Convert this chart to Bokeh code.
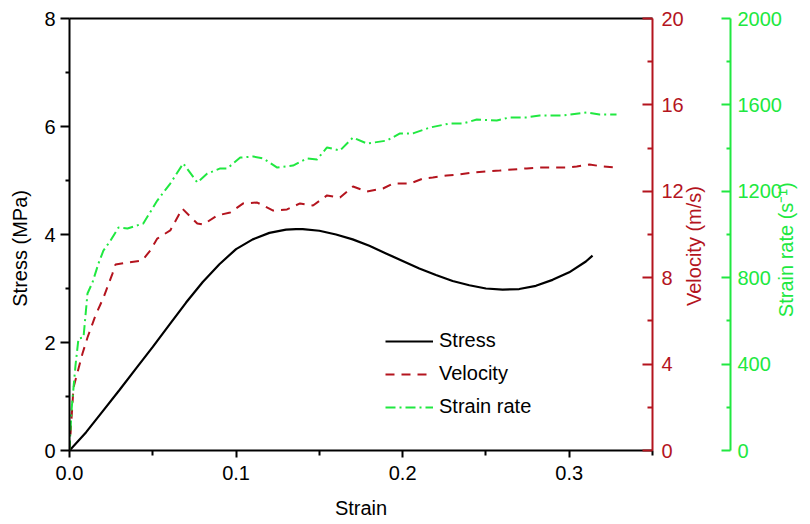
import math
from bokeh.plotting import figure
from bokeh.models import (Range1d, LinearAxis, FixedTicker, NumeralTickFormatter,
                          Legend, LegendItem)
from bokeh.embed import file_html
from bokeh.resources import INLINE

# ---- data ----
strain_s = [0, 0.01, 0.02, 0.03, 0.04, 0.05, 0.06, 0.07, 0.08, 0.09, 0.10, 0.11,
            0.12, 0.13, 0.136, 0.14, 0.15, 0.16, 0.17, 0.18, 0.19, 0.20, 0.21,
            0.22, 0.23, 0.24, 0.25, 0.26, 0.27, 0.28, 0.29, 0.30, 0.31, 0.314]
stress = [0, 0.34, 0.73, 1.12, 1.52, 1.92, 2.33, 2.74, 3.12, 3.45, 3.73, 3.91,
          4.03, 4.09, 4.10, 4.10, 4.07, 4.00, 3.91, 3.79, 3.65, 3.51, 3.37,
          3.25, 3.14, 3.06, 3.00, 2.98, 2.99, 3.05, 3.16, 3.30, 3.50, 3.61]

strain_v = [0, 0.0024, 0.0078, 0.0108, 0.0156, 0.0204, 0.0258, 0.0276, 0.0348,
            0.0437, 0.0485, 0.0527, 0.0605, 0.0677, 0.0767, 0.0803, 0.0887,
            0.0965, 0.1043, 0.1127, 0.1223, 0.1306, 0.1384, 0.1462, 0.1546,
            0.1624, 0.1702, 0.1786, 0.1882, 0.1942, 0.2044, 0.2122, 0.2181,
            0.2265, 0.2343, 0.2421, 0.2505, 0.2583, 0.2661, 0.2745, 0.2823,
            0.2901, 0.2985, 0.3045, 0.3122, 0.3200, 0.3284]
velocity = [0, 2.92, 4.49, 5.23, 6.25, 7.08, 8.19, 8.61, 8.70, 8.80, 9.26, 9.81,
            10.19, 11.20, 10.51, 10.46, 10.88, 11.02, 11.44, 11.48, 11.11, 11.16,
            11.44, 11.34, 11.81, 11.71, 12.22, 11.99, 12.13, 12.36, 12.36, 12.59,
            12.64, 12.73, 12.78, 12.87, 12.92, 12.96, 13.01, 13.06, 13.10, 13.10,
            13.10, 13.15, 13.24, 13.15, 13.10]

strain_r = [0, 0.0012, 0.0036, 0.0054, 0.0084, 0.0108, 0.0138, 0.0174, 0.0204,
            0.0246, 0.0294, 0.0348, 0.0443, 0.0527, 0.0605, 0.0683, 0.0767,
            0.0827, 0.0905, 0.0947, 0.1025, 0.1103, 0.1163, 0.1247, 0.1342,
            0.1426, 0.1486, 0.1546, 0.1624, 0.1702, 0.1786, 0.1906, 0.1984,
            0.2062, 0.2163, 0.2283, 0.2361, 0.2445, 0.2565, 0.2643, 0.2745,
            0.2823, 0.2961, 0.3104, 0.3182, 0.3284]
strain_rate = [0, 185, 394, 519, 523, 727, 778, 866, 926, 972, 1032, 1028, 1051,
               1157, 1236, 1329, 1241, 1282, 1306, 1306, 1356, 1361, 1352, 1310,
               1319, 1352, 1347, 1403, 1389, 1449, 1421, 1435, 1468, 1468, 1495,
               1514, 1514, 1532, 1528, 1542, 1542, 1551, 1551, 1565, 1556, 1556]

x_ticks = [0.0, 0.1, 0.2, 0.3]
x_minor = [0.05, 0.15, 0.25, 0.35]
stress_ticks = [0, 2, 4, 6, 8]
stress_minor = [1, 3, 5, 7]
vel_ticks = [0, 4, 8, 12, 16, 20]
vel_minor = [2, 6, 10, 14, 18]
sr_ticks = [0, 400, 800, 1200, 1600, 2000]
sr_minor = [200, 600, 1000, 1400, 1800]

RED = "#B4141E"
GREEN = "#20E840"
FONT = "Liberation Sans"
FS = "20px"
NB = "\u00a0"

p = figure(width=810, height=524, x_range=Range1d(0, 0.35), y_range=Range1d(0, 8),
           output_backend="svg", toolbar_location=None,
           min_border_left=69, min_border_right=157, min_border_top=18,
           min_border_bottom=74)
p.extra_y_ranges = {"vel": Range1d(0, 20), "sr": Range1d(0, 2000)}
p.xgrid.visible = False
p.ygrid.visible = False
p.outline_line_color = None
p.background_fill_color = "white"
p.border_fill_color = "white"


def style(ax, color, tick_in, tick_out, minor_in, minor_out, standoff):
    ax.axis_line_color = color
    ax.axis_line_width = 2
    ax.major_tick_line_color = color
    ax.major_tick_line_width = 2
    ax.minor_tick_line_color = color
    ax.minor_tick_line_width = 2
    ax.major_tick_in = tick_in
    ax.major_tick_out = tick_out
    ax.minor_tick_in = minor_in
    ax.minor_tick_out = minor_out
    ax.major_label_text_color = color
    ax.major_label_text_font = FONT
    ax.major_label_text_font_size = FS
    ax.major_label_standoff = standoff
    ax.axis_label_text_color = color
    ax.axis_label_text_font = FONT
    ax.axis_label_text_font_size = FS
    ax.axis_label_text_font_style = "normal"


xa = p.xaxis[0]
xa.ticker = FixedTicker(ticks=x_ticks, minor_ticks=x_minor)
xa.formatter = NumeralTickFormatter(format="0.0")
style(xa, "black", 0, 7, 0, 5, 8)
xa.axis_label = "Strain"
xa.axis_label_standoff = 14

ya = p.yaxis[0]
ya.ticker = FixedTicker(ticks=stress_ticks, minor_ticks=stress_minor)
style(ya, "black", 0, 9, 0, 4, 5)
ya.axis_label = "Stress (MPa)" + NB * 5
ya.axis_label_standoff = 10

top = LinearAxis(ticker=FixedTicker(ticks=[]))
style(top, "black", 0, 0, 0, 0, 0)
p.add_layout(top, "above")

va = LinearAxis(y_range_name="vel", ticker=FixedTicker(ticks=vel_ticks, minor_ticks=vel_minor))
style(va, RED, 10, 0, 5, 0, 9)
va.axis_label = NB * 26 + "Velocity (m/s)"
va.axis_label_standoff = 7
va.axis_label_orientation = math.pi / 2
va.axis_label_align = "start"
p.add_layout(va, "right")

# empty spacer between the two right-hand axes
gap = LinearAxis(y_range_name="vel", ticker=FixedTicker(ticks=[]))
gap.axis_line_color = None
gap.major_tick_out = 0
gap.major_tick_in = 0
gap.minor_tick_out = 0
gap.major_label_standoff = 0
gap.major_tick_line_color = None
gap.axis_label = NB
gap.axis_label_text_font_size = "1px"
gap.axis_label_standoff = 8
p.add_layout(gap, "right")

sa = LinearAxis(y_range_name="sr", ticker=FixedTicker(ticks=sr_ticks, minor_ticks=sr_minor))
style(sa, GREEN, 9, 0, 4, 0, 7)
sa.axis_label = NB * 24 + "Strain rate (s\u207b\u00b9)"
sa.axis_label_standoff = 1
sa.axis_label_text_line_height = 1.0
sa.axis_label_orientation = math.pi / 2
sa.axis_label_align = "start"
p.add_layout(sa, "right")

r1 = p.line(strain_s, stress, line_color="black", line_width=2.2)
r2 = p.line(strain_v, velocity, y_range_name="vel", line_color=RED, line_width=2,
            line_dash="9 7")
r3 = p.line(strain_r, strain_rate, y_range_name="sr", line_color=GREEN, line_width=2,
            line_dash="10 4 2 4")

legend = Legend(items=[LegendItem(label="Stress", renderers=[r1]),
                       LegendItem(label="Velocity", renderers=[r2]),
                       LegendItem(label="Strain rate", renderers=[r3])],
                location=(316, 32), orientation="vertical",
                glyph_width=48, glyph_height=22, label_standoff=6, spacing=10,
                padding=0, margin=0, border_line_color=None,
                background_fill_alpha=0,
                label_text_font=FONT, label_text_font_size=FS,
                label_text_color="black")
p.add_layout(legend, "center")

open("out.html", "w").write(file_html(p, INLINE))
